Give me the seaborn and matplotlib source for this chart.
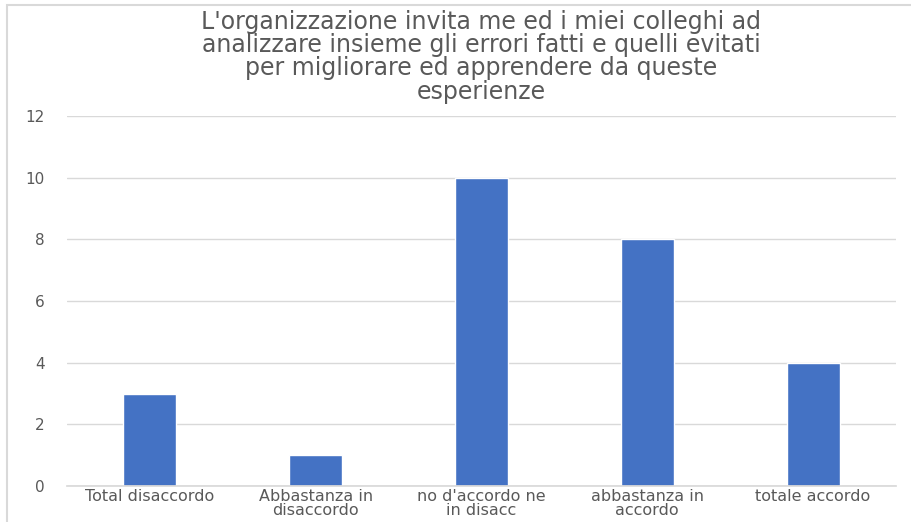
import matplotlib
matplotlib.use('Agg')
import matplotlib.pyplot as plt
import seaborn as sns
import pandas as pd
from matplotlib.patches import Rectangle

categorie = ['Total disaccordo', 'Abbastanza in\ndisaccordo', "no d'accordo ne\nin disacc",
             'abbastanza in\naccordo', 'totale accordo']
risposte = [3, 1, 10, 8, 4]
titolo = ("L'organizzazione invita me ed i miei colleghi ad\n"
          "analizzare insieme gli errori fatti e quelli evitati\n"
          "per migliorare ed apprendere da queste\n"
          "esperienze")

df = pd.DataFrame({'categoria': categorie, 'n': risposte})

sns.set_theme(style='white')
plt.rcParams['font.family'] = ['DejaVu Sans']

fig = plt.figure(figsize=(9.11, 5.22), dpi=100)
ax = fig.add_axes([67/911, 1-486/522, (896-67)/911, (486-116)/522])

# cornice del grafico
fig.patches.append(Rectangle((7/911, -0.1), 1.2, 1-5/522+0.1, transform=fig.transFigure,
                             fill=False, edgecolor='#d9d9d9', linewidth=1.5))

sns.barplot(data=df, x='categoria', y='n', color='#4472C4', width=0.32, saturation=1, ax=ax)

ax.set_ylim(0, 12)
ax.set_yticks(range(0, 13, 2))
ax.grid(axis='y', color='#d9d9d9', linewidth=1)
ax.set_axisbelow(True)
for s in ['top', 'right', 'left']:
    ax.spines[s].set_visible(False)
ax.spines['bottom'].set_color('#d9d9d9')
ax.tick_params(axis='both', length=0, colors='#595959')
ax.tick_params(axis='y', pad=16, labelsize=11)
ax.tick_params(axis='x', pad=2.5, labelsize=11.5)
for lab in ax.get_xticklabels():
    lab.set_linespacing(0.9)
ax.set_xlabel('')
ax.set_ylabel('')

fig.text(481/911, 1-10/522, titolo, ha='center', va='top', fontsize=17,
         color='#595959', linespacing=0.96)

fig.savefig('out.png', dpi=100)
